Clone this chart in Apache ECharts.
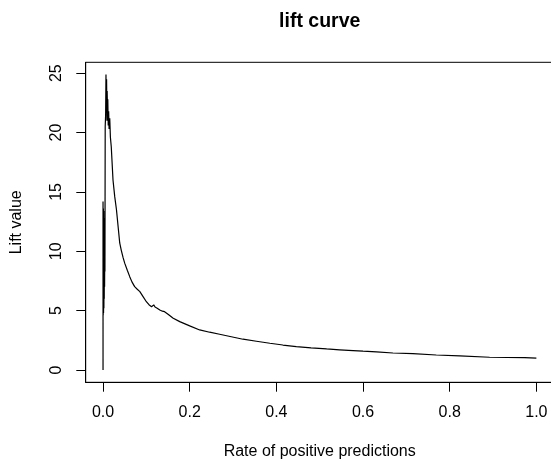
<!DOCTYPE html>
<html>
<head>
<meta charset="utf-8">
<script src="https://cdn.jsdelivr.net/npm/echarts@6/dist/echarts.min.js"></script>
<style>
html,body{margin:0;padding:0;background:#fff;}
#chart{width:551px;height:461px;}
</style>
</head>
<body>
<div id="chart"></div>
<script>
const chartTitle = 'lift curve';
const xTitle = 'Rate of positive predictions';
const yTitle = 'Lift value';
const xTicks = [0, 0.2, 0.4, 0.6, 0.8, 1.0];
const yTicks = [0, 5, 10, 15, 20, 25];

const rate = [0, 0, 0.0004, 0.0008, 0.0012, 0.0016, 0.0020, 0.0024, 0.0028, 0.0032, 0.0036, 0.004, 0.0044, 0.0046, 0.0050,
  0.006, 0.0068, 0.0075, 0.0082, 0.009, 0.0095, 0.0105, 0.011, 0.012, 0.013, 0.014, 0.0155, 0.017, 0.019,
  0.023, 0.027, 0.031, 0.035, 0.0385, 0.042, 0.046, 0.050, 0.056, 0.0616, 0.067, 0.073, 0.079, 0.085,
  0.092, 0.100, 0.106, 0.112, 0.115, 0.117, 0.120, 0.125, 0.131, 0.137, 0.142, 0.150, 0.162, 0.177,
  0.200, 0.223, 0.246, 0.269, 0.296, 0.323, 0.354, 0.385, 0.415, 0.446, 0.480, 0.516, 0.546, 0.577,
  0.600, 0.631, 0.669, 0.715, 0.769, 0.823, 0.892, 0.973, 0.977, 1.0];
const lift = [0, 14.2, 4.6, 13.6, 4.8, 13.4, 5.2, 12.8, 6.0, 12.0, 7.0, 10.5, 8.3, 8.3, 20.5,
  21.5, 24.9, 22.0, 24.5, 21.0, 23.5, 21.5, 22.8, 20.6, 21.8, 20.3, 21.2, 19.6, 18.8,
  16.0, 14.6, 13.5, 12.0, 10.7, 10.1, 9.5, 9.0, 8.4, 7.86, 7.4, 7.02, 6.8, 6.6,
  6.2, 5.75, 5.5, 5.33, 5.2, 5.48, 5.3, 5.2, 5.05, 4.95, 4.91, 4.7, 4.36, 4.07,
  3.71, 3.37, 3.18, 3.01, 2.8, 2.59, 2.42, 2.25, 2.10, 1.96, 1.86, 1.77, 1.70, 1.63,
  1.58, 1.52, 1.43, 1.37, 1.26, 1.18, 1.07, 1.04, 0.99, 0.99];

const FONT = 'Liberation Sans, Arial, sans-serif';
const chart = echarts.init(document.getElementById('chart'), null, {renderer: 'canvas'});
chart.setOption({
  animation: false,
  backgroundColor: '#fff',
  grid: {left: 85.7, top: 62.3, width: 468, height: 320, show: true,
    borderColor: '#000', borderWidth: 1, containLabel: false, outerBoundsMode: 'none'},
  graphic: [{type: 'text', x: 319.7, y: 22, style: {text: chartTitle, fill: '#000',
    font: 'bold 19.5px ' + FONT, textAlign: 'center', textVerticalAlign: 'middle'}}],
  xAxis: {
    type: 'value', min: -0.04, max: 1.04,
    name: xTitle, nameLocation: 'middle', nameGap: 61,
    nameTextStyle: {color: '#000', fontSize: 16, fontFamily: FONT},
    axisLine: {show: true, onZero: false, lineStyle: {color: '#000', width: 1}},
    splitLine: {show: false},
    axisTick: {show: true, inside: false, length: 9.4, customValues: xTicks, lineStyle: {color: '#000', width: 1}},
    axisLabel: {show: true, customValues: xTicks, margin: 22, color: '#000', fontSize: 16, fontFamily: FONT,
      formatter: v => v.toFixed(1)}
  },
  yAxis: {
    type: 'value', min: -1.04, max: 25.92,
    name: yTitle, nameLocation: 'middle', nameGap: 60.7, nameRotate: 90,
    nameTextStyle: {color: '#000', fontSize: 16, fontFamily: FONT},
    axisLine: {show: true, onZero: false, lineStyle: {color: '#000', width: 1}},
    splitLine: {show: false},
    axisTick: {show: true, inside: false, length: 9.4, customValues: yTicks, lineStyle: {color: '#000', width: 1}},
    axisLabel: {show: true, customValues: yTicks, margin: 21, rotate: 90, color: '#000', fontSize: 16, fontFamily: FONT,
      formatter: v => String(v)}
  },
  series: [{
    type: 'line',
    data: rate.map((r, i) => [r, lift[i]]),
    showSymbol: false,
    symbol: 'none',
    clip: false,
    lineStyle: {color: '#000', width: 1.2},
    silent: true
  }]
});
</script>
</body>
</html>
